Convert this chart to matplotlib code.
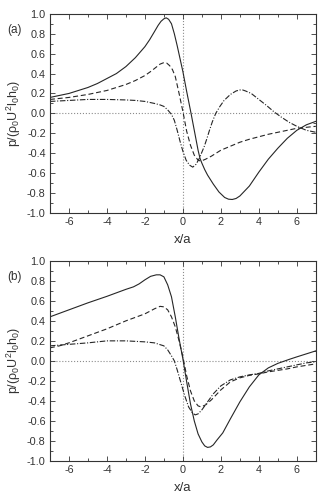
import matplotlib
matplotlib.use("Agg")
import matplotlib.pyplot as plt
from matplotlib.ticker import MultipleLocator, FormatStrFormatter

plt.rcParams['font.family'] = ['Liberation Sans', 'DejaVu Sans']
plt.rcParams['axes.unicode_minus'] = False
plt.rcParams['mathtext.fontset'] = 'custom'
plt.rcParams['mathtext.rm'] = 'Liberation Sans'
plt.rcParams['mathtext.it'] = 'Liberation Sans'

# ---- panel (a) ----
a_solid_x = [-7, -6.5, -6, -5.5, -5, -4.5, -4, -3.5, -3, -2.5, -2, -1.75, -1.5, -1.3, -1.15, -1.0, -0.88,
             -0.75, -0.6, -0.45, -0.3, -0.15, 0, 0.2, 0.43, 0.6, 0.8, 0.9, 1.0, 1.15, 1.3, 1.6, 1.9, 2.2,
             2.4, 2.6, 2.8, 3.0, 3.5, 4, 4.5, 5, 5.5, 6, 6.5, 7]
a_solid_y = [0.16, 0.18, 0.20, 0.23, 0.26, 0.30, 0.35, 0.40, 0.47, 0.56, 0.67, 0.74, 0.82, 0.885, 0.925,
             0.95, 0.96, 0.945, 0.90, 0.80, 0.68, 0.55, 0.42, 0.22, 0.0, -0.17, -0.37, -0.45, -0.50, -0.565,
             -0.62, -0.71, -0.79, -0.845, -0.862, -0.865, -0.855, -0.83, -0.73, -0.59, -0.46, -0.35, -0.25,
             -0.17, -0.115, -0.08]

a_dash_x = [-7, -6, -5, -4, -3.5, -3, -2.5, -2, -1.7, -1.4, -1.2, -1.0, -0.85, -0.7, -0.55, -0.4, -0.2, 0,
            0.2, 0.4, 0.6, 0.8, 0.95, 1.2, 1.5, 2, 2.5, 3, 3.5, 4, 4.5, 5, 5.5, 6, 6.5, 7]
a_dash_y = [0.14, 0.16, 0.19, 0.23, 0.26, 0.29, 0.33, 0.38, 0.42, 0.465, 0.495, 0.51, 0.505, 0.48, 0.44,
            0.37, 0.20, 0.02, -0.18, -0.32, -0.42, -0.47, -0.48, -0.46, -0.43, -0.37, -0.33, -0.29, -0.26,
            -0.235, -0.21, -0.19, -0.17, -0.15, -0.14, -0.13]

a_dd_x = [-7, -6, -5, -4, -3, -2.5, -2, -1.5, -1.2, -1.0, -0.8, -0.6, -0.45, -0.3, -0.15, 0, 0.17, 0.35,
          0.52, 0.7, 0.87, 1.0, 1.13, 1.27, 1.4, 1.55, 1.73, 1.95, 2.17, 2.5, 2.8, 3.0, 3.15, 3.3, 3.6, 4.0,
          4.4, 4.8, 5.2, 5.6, 6.0, 6.5, 7]
a_dd_y = [0.12, 0.13, 0.14, 0.14, 0.135, 0.13, 0.12, 0.10, 0.085, 0.07, 0.035, -0.01, -0.07, -0.17, -0.28,
          -0.38, -0.47, -0.52, -0.54, -0.51, -0.45, -0.39, -0.33, -0.25, -0.17, -0.085, 0.0, 0.07, 0.13,
          0.19, 0.225, 0.235, 0.235, 0.225, 0.20, 0.14, 0.08, 0.015, -0.04, -0.09, -0.13, -0.17, -0.19]

# ---- panel (b) ----
b_solid_x = [-7, -6, -5, -4, -3, -2.6, -2.3, -2.0, -1.7, -1.4, -1.2, -1.0, -0.8, -0.6, -0.4, -0.2, 0,
             0.2, 0.4, 0.6, 0.8, 1.0, 1.15, 1.3, 1.45, 1.6, 1.8, 2.1, 2.5, 3, 3.5, 4, 4.5, 5, 5.3, 5.6,
             6, 6.5, 7]
b_solid_y = [0.44, 0.51, 0.58, 0.645, 0.715, 0.74, 0.77, 0.81, 0.845, 0.86, 0.86, 0.84, 0.76, 0.64, 0.44,
             0.22, 0.02, -0.21, -0.43, -0.60, -0.73, -0.81, -0.85, -0.865, -0.86, -0.84, -0.79, -0.72,
             -0.58, -0.41, -0.26, -0.14, -0.07, -0.025, -0.005, 0.015, 0.04, 0.07, 0.10]

b_dash_x = [-7, -6.5, -6, -5, -4, -3, -2, -1.5, -1.2, -1.0, -0.8, -0.6, -0.4, -0.2, 0, 0.2, 0.4, 0.6, 0.8,
            0.95, 1.2, 1.5, 2.0, 2.5, 3, 3.5, 4, 4.5, 5, 5.5, 6, 6.5, 7]
b_dash_y = [0.13, 0.15, 0.18, 0.25, 0.32, 0.40, 0.47, 0.52, 0.545, 0.54, 0.51, 0.44, 0.34, 0.20, 0.04,
            -0.15, -0.30, -0.40, -0.45, -0.46, -0.44, -0.39, -0.29, -0.21, -0.17, -0.145, -0.13, -0.11,
            -0.095, -0.08, -0.06, -0.045, -0.03]

b_dd_x = [-7, -6, -5, -4, -3, -2, -1.5, -1.0, -0.8, -0.6, -0.45, -0.3, -0.1, 0.1, 0.3, 0.5, 0.65, 0.8,
          1.0, 1.3, 1.6, 2.0, 2.5, 3.0, 3.5, 4.0, 4.5, 5, 5.5, 6, 6.5, 7]
b_dd_y = [0.15, 0.165, 0.18, 0.20, 0.20, 0.19, 0.18, 0.15, 0.11, 0.05, 0.0, -0.09, -0.22, -0.35, -0.46,
          -0.52, -0.54, -0.53, -0.49, -0.41, -0.33, -0.25, -0.19, -0.16, -0.14, -0.125, -0.10, -0.08,
          -0.06, -0.04, -0.02, -0.01]

panels = [
    ("(a)", (a_solid_x, a_solid_y), (a_dash_x, a_dash_y), (a_dd_x, a_dd_y)),
    ("(b)", (b_solid_x, b_solid_y), (b_dash_x, b_dash_y), (b_dd_x, b_dd_y)),
]

fig = plt.figure(figsize=(3.2, 4.94), dpi=100)
rects = [[0.156, 0.569, 0.831, 0.403], [0.156, 0.067, 0.831, 0.405]]
ylabel = r'p/($\rho_0$U$^2$l$_0$h$_0$)'

for rect, (tag, solid, dash, dd) in zip(rects, panels):
    ax = fig.add_axes(rect)
    ax.axhline(0, color='0.55', lw=0.8, ls=':', zorder=1)
    ax.axvline(0, color='0.55', lw=0.8, ls=':', zorder=1)
    ax.plot(*solid, color='0.15', lw=0.8, ls='-')
    ax.plot(*dash, color='0.15', lw=0.8, ls=(0, (4.5, 2.5)))
    ax.plot(*dd, color='0.15', lw=0.8, ls=(0, (5, 1.5, 1, 1.5)))

    ax.set_xlim(-7, 7)
    ax.set_ylim(-1.0, 1.0)
    ax.xaxis.set_major_locator(MultipleLocator(2))
    ax.xaxis.set_minor_locator(MultipleLocator(1))
    ax.yaxis.set_major_locator(MultipleLocator(0.2))
    ax.yaxis.set_minor_locator(MultipleLocator(0.1))
    ax.yaxis.set_major_formatter(FormatStrFormatter('%.1f'))
    ax.tick_params(which='both', direction='in', top=True, right=True, labelsize=7.8,
                   width=0.6, colors='0.2', pad=3)
    ax.tick_params(which='major', length=3.5)
    ax.tick_params(which='minor', length=2)
    for s in ax.spines.values():
        s.set_linewidth(0.8)
        s.set_color('0.2')
    ax.set_xlabel('x/a', fontsize=9.5, color='0.2', labelpad=5)
    ax.set_ylabel(ylabel, fontsize=9, color='0.2', labelpad=3)
    ax.text(-0.16, 0.92, tag, transform=ax.transAxes, fontsize=8.5, color='0.2', va='center')

fig.savefig("out.png", dpi=100)
